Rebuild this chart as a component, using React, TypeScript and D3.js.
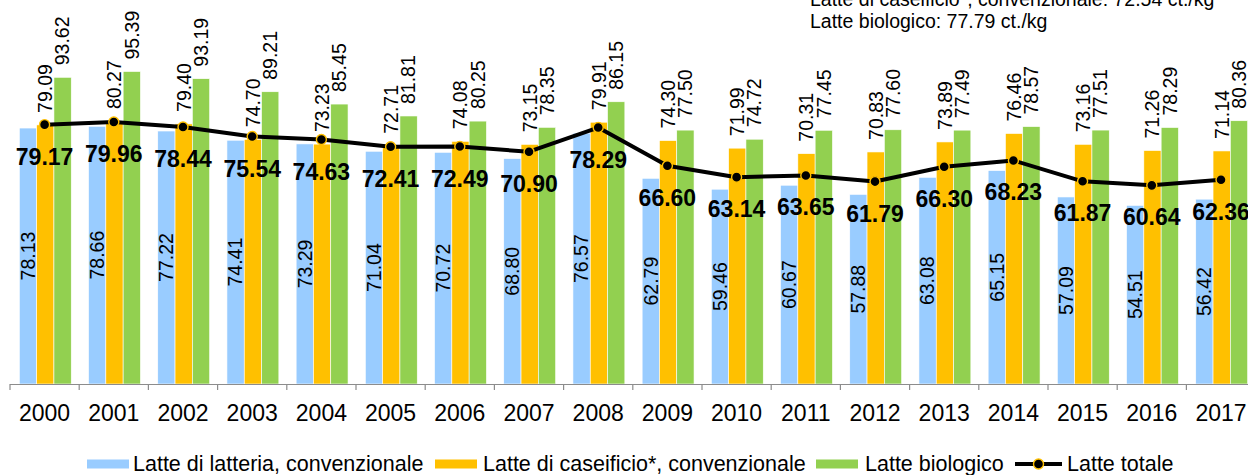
import React from 'react';
import * as d3 from 'd3';

// Values (ct./kg)
const years = ['2000', '2001', '2002', '2003', '2004', '2005', '2006', '2007', '2008', '2009', '2010', '2011', '2012', '2013', '2014', '2015', '2016', '2017'];
const latteria = [78.13, 78.66, 77.22, 74.41, 73.29, 71.04, 70.72, 68.8, 76.57, 62.79, 59.46, 60.67, 57.88, 63.08, 65.15, 57.09, 54.51, 56.42];
const caseificio = [79.09, 80.27, 79.4, 74.7, 73.23, 72.71, 74.08, 73.15, 79.91, 74.3, 71.99, 70.31, 70.83, 73.89, 76.46, 73.16, 71.26, 71.14];
const biologico = [93.62, 95.39, 93.19, 89.21, 85.45, 81.81, 80.25, 78.35, 86.15, 77.5, 74.72, 77.45, 77.6, 77.49, 78.57, 77.51, 78.29, 80.36];
const totale = [79.17, 79.96, 78.44, 75.54, 74.63, 72.41, 72.49, 70.9, 78.29, 66.6, 63.14, 63.65, 61.79, 66.3, 68.23, 61.87, 60.64, 62.36];

const seriesNames = ['Latte di latteria, convenzionale', 'Latte di caseificio*, convenzionale', 'Latte biologico'];
const seriesColors = ['#99CCFF', '#FFC000', '#92D050'];
const lineName = 'Latte totale';
const noteLines = ['Latte di caseificio*, convenzionale: 72.54 ct./kg', 'Latte biologico: 77.79 ct./kg'];

const W = 1248;
const H = 475;
const FONT = '"Liberation Sans", Arial, sans-serif';

const App: React.FC = () => {
  const baseY = 384;
  const step = 69.2;
  const x0 = 10;

  const x = d3.scaleBand<string>()
    .domain(years)
    .range([x0, x0 + step * years.length])
    .paddingInner(0)
    .paddingOuter(0);

  const xSub = d3.scaleBand<number>()
    .domain([0, 1, 2])
    .range([step * 0.135, step * 0.885])
    .padding(0);

  const y = d3.scaleLinear().domain([0, 100]).range([baseY, baseY - 327.6]);

  const series = [latteria, caseificio, biologico];
  const cx = (i: number) => (x(years[i]) as number) + x.bandwidth() / 2;

  const line = d3.line<number>()
    .x((_, i) => cx(i))
    .y(d => y(d));

  const legend = [
    { sx: 87, tx: 133 },
    { sx: 435, tx: 483 },
    { sx: 816, tx: 865 },
  ];

  return (
    <div style={{ position: 'fixed', left: 0, top: 0 }}>
      <svg width={W} height={H} style={{ display: 'block', background: '#fff' }} fontFamily={FONT}>
        {/* note top right */}
        {noteLines.map((t, i) => (
          <text key={t} x={810} y={6 + i * 22} fontSize={19.5} fill="#000">{t}</text>
        ))}

        {/* bars */}
        {series.map((vals, s) =>
          vals.map((v, i) => (
            <rect
              key={`b${s}-${i}`}
              x={(x(years[i]) as number) + (xSub(s) as number)}
              y={y(v)}
              width={xSub.bandwidth()}
              height={baseY - y(v)}
              fill={seriesColors[s]}
              stroke="#fff"
              strokeWidth={0.6}
            />
          ))
        )}

        {/* axis */}
        <line x1={x0} x2={x0 + step * years.length} y1={baseY + 0.5} y2={baseY + 0.5} stroke="#8c8c8c" strokeWidth={1.2} />
        {d3.range(years.length + 1).map(i => (
          <line key={`t${i}`} x1={x0 + i * step} x2={x0 + i * step} y1={baseY} y2={baseY + 6} stroke="#8c8c8c" strokeWidth={1.2} />
        ))}
        {years.map((yr, i) => (
          <text key={yr} x={cx(i)} y={421} textAnchor="middle" fontSize={23} fill="#000">{yr}</text>
        ))}

        {/* value labels inside blue bars */}
        {latteria.map((v, i) => {
          const bx = (x(years[i]) as number) + (xSub(0) as number) + xSub.bandwidth() / 2;
          const my = (y(v) + baseY) / 2;
          return (
            <text key={`l0-${i}`} transform={`translate(${bx},${my}) rotate(-90)`} textAnchor="middle" dy="0.35em" fontSize={19.5} fill="#000">
              {v.toFixed(2)}
            </text>
          );
        })}

        {/* value labels above orange and green bars */}
        {[1, 2].map(s =>
          series[s].map((v, i) => {
            const bx = (x(years[i]) as number) + (xSub(s) as number) + xSub.bandwidth() / 2;
            return (
              <text key={`l${s}-${i}`} transform={`translate(${bx},${y(v) - 12}) rotate(-90)`} textAnchor="start" dy="0.35em" fontSize={19.5} fill="#000">
                {v.toFixed(2)}
              </text>
            );
          })
        )}

        {/* total line */}
        <path d={line(totale) || ''} fill="none" stroke="#000" strokeWidth={4} strokeLinejoin="round" />
        {totale.map((v, i) => (
          <circle key={`m${i}`} cx={cx(i)} cy={y(v)} r={5} fill="#000" stroke="#FFC000" strokeWidth={1.4} />
        ))}
        {totale.map((v, i) => (
          <text key={`tl${i}`} x={cx(i)} y={y(v) + 40} textAnchor="middle" fontSize={23} fontWeight="bold" fill="#000">
            {v.toFixed(2)}
          </text>
        ))}

        {/* legend */}
        {legend.map((l, s) => (
          <g key={`lg${s}`}>
            <rect x={l.sx} y={459.5} width={42} height={9} fill={seriesColors[s]} />
            <text x={l.tx} y={471} fontSize={21.5} fill="#000">{seriesNames[s]}</text>
          </g>
        ))}
        <line x1={1015} x2={1062} y1={464} y2={464} stroke="#000" strokeWidth={4} />
        <circle cx={1038.5} cy={464} r={5} fill="#000" stroke="#FFC000" strokeWidth={1.4} />
        <text x={1067} y={471} fontSize={21.5} fill="#000">{lineName}</text>
      </svg>
    </div>
  );
};

export default App;
